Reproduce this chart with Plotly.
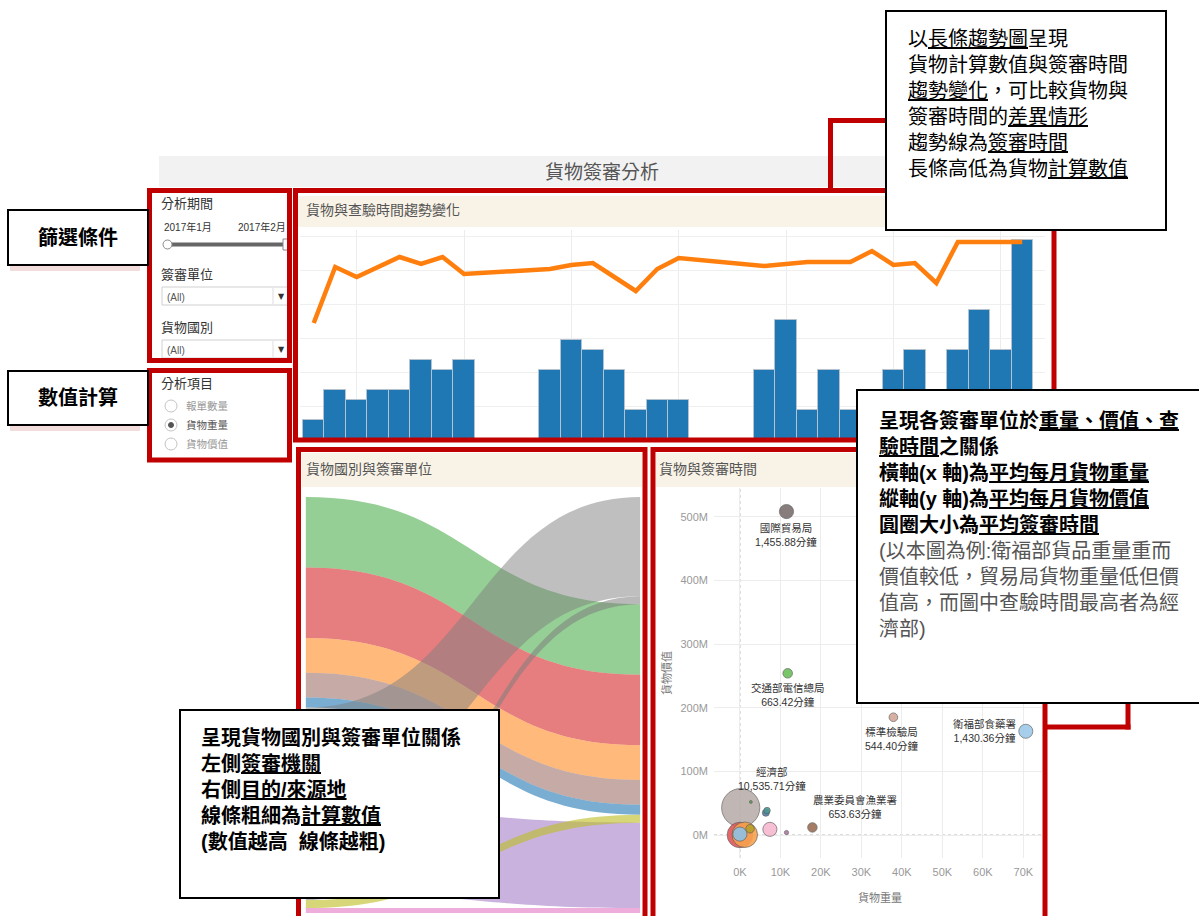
import plotly.graph_objects as go
import pandas as pd

W, H = 1199, 916
FONT = "Liberation Sans, Noto Sans CJK TC"
RED = "#c00000"


def X(px):
    return px / W


def Y(py):
    return 1 - py / H


# ---------------- trend chart (bars = cargo amount, line = review time) ----------------
trend_dates = [
    "2017-01-01", "2017-01-02", "2017-01-03", "2017-01-04", "2017-01-05", "2017-01-06", "2017-01-07", "2017-01-08",
    "2017-01-12", "2017-01-13", "2017-01-14", "2017-01-15", "2017-01-16", "2017-01-17", "2017-01-18",
    "2017-01-22", "2017-01-23", "2017-01-24", "2017-01-25", "2017-01-26", "2017-01-27", "2017-01-28",
    "2017-01-29", "2017-01-30", "2017-01-31", "2017-02-01", "2017-02-02", "2017-02-03",
]
cargo_amount = [2, 5, 4, 5, 5, 8, 7, 8,
                7, 10, 9, 7, 3, 4, 4,
                7, 12, 3, 7, 3, 3, 7, 9, 2, 9, 13, 9, 20]
review_minutes = [936, 1384, 1304, 1384, 1464, 1408, 1464, 1328,
                  1368, 1400, 1416, 1304, 1192, 1368, 1456,
                  1392, 1408, 1424, 1424, 1424, 1512, 1400, 1416, 1256, 1584, 1584, 1584, 1584]

# ---------------- sankey (agency -> country) ----------------
agencies_left = ["交通部電信總局", "國際貿易局", "農業委員會漁業署", "標準檢驗局", "衛福部食藥署",
                 "經濟部", "財政部關務署", "原能會", "農委會防檢局", "其他單位"]
countries_right = ["中國大陸", "日本", "美國", "德國", "韓國", "越南", "泰國", "其他"]
link_source = [0, 1, 2, 3, 4, 5, 6, 7, 8, 9]
link_target = [1, 2, 3, 4, 5, 0, 7, 0, 6, 7]
link_value = [71, 71, 35, 25, 10, 100, 86, 8, 8, 5]
link_colors = ["rgba(44,160,44,0.5)", "rgba(214,39,40,0.6)", "rgba(255,127,14,0.55)",
               "rgba(140,86,75,0.5)", "rgba(31,119,180,0.6)", "rgba(127,127,127,0.5)",
               "rgba(148,103,189,0.5)", "rgba(127,127,127,0.55)", "rgba(188,189,34,0.6)",
               "rgba(227,119,194,0.6)"]

# ---------------- bubble chart ----------------
bub_names = ["經濟部", "其他單位A", "其他單位B", "其他單位C", "其他單位D", "其他單位E", "其他單位F",
             "其他單位G", "其他單位H", "其他單位I", "國際貿易局", "交通部電信總局", "標準檢驗局",
             "衛福部食藥署", "農業委員會漁業署"]
bub_weight = [200, 0, 1200, 0, 2500, 7400, 6400, 6700, 11500, 2700, 11500, 11800, 37900, 70600, 17900]
bub_value = [43e6, 0.2e6, 0.5e6, 1.5e6, 10e6, 9e6, 35e6, 38.5e6, 4e6, 52e6, 508e6, 254e6, 185e6, 163e6, 12e6]
bub_minutes = [10535.71, 4700, 4700, 1450, 520, 1440, 360, 300, 130, 60,
               1455.88, 663.42, 544.40, 1430.36, 653.63]
bub_colors = ["#bab0ac", "#e15759", "#f7a24f", "#8ec1e6", "#b8a02a", "#f7b9d0", "#4e79a7",
              "#499894", "#b07aa1", "#59a14f", "#79706e", "#6abf5a", "#d4a89a", "#9ecae9", "#9c6f55"]
labelled = ["國際貿易局", "交通部電信總局", "標準檢驗局", "衛福部食藥署", "經濟部", "農業委員會漁業署"]
label_shift = {"國際貿易局": (0, -23), "交通部電信總局": (0, -22), "標準檢驗局": (-1, -22),
               "衛福部食藥署": (-41, 0), "經濟部": (31, 29), "農業委員會漁業署": (43, 20)}

x_tickvals = [0, 10000, 20000, 30000, 40000, 50000, 60000, 70000]
x_ticktext = ["0K", "10K", "20K", "30K", "40K", "50K", "60K", "70K"]
y_tickvals = [0, 100e6, 200e6, 300e6, 400e6, 500e6]
y_ticktext = ["0M", "100M", "200M", "300M", "400M", "500M"]

fig = go.Figure()

# bars + line
fig.add_trace(go.Bar(x=trend_dates, y=cargo_amount, xaxis="x", yaxis="y",
                     marker=dict(color="#1f77b4", line=dict(color="#b4c2d0", width=1)),
                     hoverinfo="skip"))
fig.add_trace(go.Scatter(x=trend_dates, y=review_minutes, xaxis="x", yaxis="y2", mode="lines",
                         line=dict(color="#ff7f0e", width=4.5), hoverinfo="skip"))

# sankey
nL, nR = len(agencies_left), len(countries_right)
tot = sum(link_value)
left_val = [sum(v for s, v in zip(link_source, link_value) if s == i) for i in range(nL)]
right_val = [sum(v for t, v in zip(link_target, link_value) if t == j) for j in range(nR)]


def centers(vals):
    out, c = [], 0
    for v in vals:
        out.append((c + v / 2) / tot)
        c += v
    return out


fig.add_trace(go.Sankey(
    domain=dict(x=[X(305), X(641)], y=[Y(913), Y(497)]),
    arrangement="fixed",
    node=dict(label=[""] * (nL + nR), x=[0.001] * nL + [0.999] * nR,
              y=centers(left_val) + centers(right_val), pad=0, thickness=1,
              color="rgba(0,0,0,0)", line=dict(width=0)),
    link=dict(source=link_source, target=[t + nL for t in link_target], value=link_value,
              color=link_colors),
    hoverinfo="none",
))

# bubbles
fig.add_trace(go.Scatter(
    x=bub_weight, y=bub_value, xaxis="x2", yaxis="y3", mode="markers",
    marker=dict(size=bub_minutes, sizemode="area", sizeref=10535.71 / 27 ** 2,
                color=bub_colors, opacity=0.9, line=dict(color="rgba(90,90,90,0.7)", width=1)),
    hoverinfo="skip"))

day = pd.Timedelta(days=1)
t0 = pd.Timestamp("2017-01-01")
fig.update_layout(
    width=W, height=H, margin=dict(l=0, r=0, t=0, b=0),
    paper_bgcolor="white", plot_bgcolor="white", showlegend=False, bargap=0,
    font=dict(family=FONT, color="#333"),
    xaxis=dict(domain=[X(300), X(1045)], anchor="y", type="date",
               range=[t0 - 0.64 * day, t0 + 34.06 * day],
               tick0="2017-01-03", dtick=5 * 86400000, showticklabels=False, ticks="",
               showgrid=True, gridcolor="#ececec", zeroline=False, showline=False),
    yaxis=dict(domain=[Y(440), Y(230)], anchor="x", range=[0, 21], dtick=3.4,
               showticklabels=False, ticks="", gridcolor="#efefef", zeroline=False),
    yaxis2=dict(overlaying="y", anchor="x", range=[0, 1680], visible=False),
    xaxis2=dict(domain=[X(714), X(1042)], anchor="y3", range=[-6400, 74600],
                tickvals=x_tickvals, ticktext=x_ticktext, ticks="",
                tickfont=dict(size=11, color="#999"), ticklabelstandoff=6,
                gridcolor="#ececec", zeroline=False, showline=False),
    yaxis3=dict(domain=[Y(858), Y(488)], anchor="x2", range=[-36e6, 545e6],
                tickvals=y_tickvals, ticktext=y_ticktext, ticks="",
                tickfont=dict(size=11, color="#999"), ticklabelstandoff=5,
                gridcolor="#ececec", zeroline=False, showline=False),
)

shapes = []


def rect(x0, y0, x1, y1, line=None, fill=None, lw=0, layer="above"):
    shapes.append(dict(type="rect", xref="paper", yref="paper", x0=X(x0), x1=X(x1), y0=Y(y1), y1=Y(y0),
                       line=dict(color=line or "rgba(0,0,0,0)", width=lw),
                       fillcolor=fill or "rgba(0,0,0,0)", layer=layer))


def seg(x0, y0, x1, y1, color, lw, dash=None):
    d = dict(color=color, width=lw)
    if dash:
        d["dash"] = dash
    shapes.append(dict(type="line", xref="paper", yref="paper", x0=X(x0), x1=X(x1), y0=Y(y0), y1=Y(y1),
                       line=d, layer="above"))


def circ(cx, cy, r, line, fill, lw=1):
    shapes.append(dict(type="circle", xref="paper", yref="paper", x0=X(cx - r), x1=X(cx + r),
                       y0=Y(cy + r), y1=Y(cy - r), line=dict(color=line, width=lw), fillcolor=fill,
                       layer="above"))


# title band and header bands
rect(159, 156, 1057, 187, fill="#f2f2f2", layer="below")
rect(298, 196, 1051, 227, fill="#f9f3e7", layer="below")
rect(302, 453, 642, 487, fill="#f9f3e7", layer="below")
rect(656, 453, 1042, 487, fill="#f9f3e7", layer="below")

# zero reference lines of bubble chart
shapes.append(dict(type="line", xref="x2", yref="y3 domain", x0=0, x1=0, y0=0, y1=1,
                   line=dict(color="#b0b0b0", width=1, dash="dot"), layer="below"))
shapes.append(dict(type="line", xref="x2 domain", yref="y3", x0=0, x1=1, y0=0, y1=0,
                   line=dict(color="#b0b0b0", width=1, dash="dot"), layer="below"))

# filter widgets
seg(167, 244.5, 284, 244.5, "#666", 4)
circ(167.5, 244.5, 4.5, "#888", "white")
rect(283, 239, 289, 250, line="#888", fill="white", lw=1)
for ytop in (287, 340):
    rect(162, ytop, 289, ytop + 18, line="#d0d0d0", fill="white", lw=1)
    seg(273, ytop + 1, 273, ytop + 17, "#dddddd", 1)
for i, cy in enumerate((406, 425, 444)):
    circ(171, cy, 6, "#c4c4c4", "white")
    if i == 1:
        circ(171, cy, 2.5, "#555", "#555")

# red frames
for (x0, y0, x1, y1) in [(149.5, 190.5, 289.5, 360.5), (149.5, 370.5, 289.5, 460),
                         (295.5, 190.5, 1054, 440), (298.5, 449.5, 645, 930),
                         (653, 449.5, 1045, 930)]:
    rect(x0, y0, x1, y1, line=RED, lw=5)

# connectors
seg(830.5, 120.5, 886, 120.5, RED, 5)
seg(830.5, 118, 830.5, 189, RED, 5)
seg(1128, 700, 1128, 729.5, RED, 5)
seg(1045, 727, 1130.5, 727, RED, 5)

# annotation boxes
rect(10, 265, 140, 271, fill="#f3dcdc")
rect(10, 425, 140, 431, fill="#f3dcdc")
rect(8, 210, 148, 265, line="black", fill="white", lw=2)
rect(8, 371, 148, 425, line="black", fill="white", lw=2)
rect(886, 11, 1166, 230, line="black", fill="white", lw=2)
rect(857, 390, 1210, 703, line="black", fill="white", lw=2)
rect(180, 710, 499, 898, line="black", fill="white", lw=2)

fig.update_layout(shapes=shapes)

ann = []


def text(x, y, s, size, color="#333", xanchor="left", yanchor="middle", weight="normal", family=FONT, **kw):
    ann.append(dict(xref="paper", yref="paper", x=X(x), y=Y(y), text=s, showarrow=False,
                    xanchor=xanchor, yanchor=yanchor, align="left",
                    font=dict(family=family, size=size, color=color, weight=weight), **kw))


def U(s):
    return '<span style="text-decoration:underline">' + s + "</span>"


text(602, 172, "貨物簽審分析", 19, "#555", xanchor="center")
text(304, 210, "貨物與查驗時間趨勢變化", 14, "#555")
text(304, 469, "貨物國別與簽審單位", 14, "#555")
text(657, 469, "貨物與簽審時間", 14, "#555")

text(159, 204, "分析期間", 13)
text(162, 227, "2017年1月", 10)
text(236, 227, "2017年2月", 10)
text(159, 274, "簽審單位", 13)
text(165, 297, "(All)", 10, "#555")
text(281, 296, "▼", 8, "#333", xanchor="center", family="DejaVu Sans")
text(159, 327, "貨物國別", 13)
text(165, 350, "(All)", 10, "#555")
text(281, 349, "▼", 8, "#333", xanchor="center", family="DejaVu Sans")
text(159, 383, "分析項目", 13)
text(184, 406, "報單數量", 10.5, "#999")
text(184, 425, "貨物重量", 10.5, "#555")
text(184, 444, "貨物價值", 10.5, "#999")

text(880, 897, "貨物重量", 11, "#777", xanchor="center")
text(666, 673, "貨物價值", 11, "#777", xanchor="center", textangle=-90)

# bubble labels
for n, xv, yv, m in zip(bub_names, bub_weight, bub_value, bub_minutes):
    if n in labelled:
        dx, dy = label_shift[n]
        ann.append(dict(xref="x2", yref="y3", x=xv, y=yv, xshift=dx, yshift=dy, showarrow=False,
                        text=f"{n}<br>{m:,.2f}分鐘", align="center",
                        font=dict(family=FONT, size=10.5, color="#333")))

text(78, 237, "篩選條件", 20, "black", xanchor="center", weight="bold")
text(78, 397, "數值計算", 20, "black", xanchor="center", weight="bold")

boxA = "<br>".join([
    "以" + U("長條趨勢圖") + "呈現",
    "貨物計算數值與簽審時間",
    U("趨勢變化") + "，可比較貨物與",
    "簽審時間的" + U("差異情形"),
    "趨勢線為" + U("簽審時間"),
    "長條高低為貨物" + U("計算數值"),
])
text(906, 103.5, boxA, 20, "black")

boxB = "<br>".join([
    "<b>呈現各簽審單位於" + U("重量、價值、查") + "</b>",
    "<b>" + U("驗時間") + "之關係</b>",
    "<b>橫軸(x 軸)為" + U("平均每月貨物重量") + "</b>",
    "<b>縱軸(y 軸)為" + U("平均每月貨物價值") + "</b>",
    "<b>圓圈大小為" + U("平均簽審時間") + "</b>",
    '<span style="color:#555">(以本圖為例:衛福部貨品重量重而</span>',
    '<span style="color:#555">價值較低，貿易局貨物重量低但價</span>',
    '<span style="color:#555">值高，而圖中查驗時間最高者為經</span>',
    '<span style="color:#555">濟部)</span>',
])
text(877, 524, boxB, 20, "black")

boxC = "<br>".join([
    "呈現貨物國別與簽審單位關係",
    "左側" + U("簽審機關"),
    "右側" + U("目的/來源地"),
    "線條粗細為" + U("計算數值"),
    "(數值越高  線條越粗)",
])
text(199, 789.5, boxC, 20, "black", weight="bold")

fig.update_layout(annotations=ann)
fig.write_html("out.html", config={"displayModeBar": False},
               post_script="document.body.style.margin='0';")
